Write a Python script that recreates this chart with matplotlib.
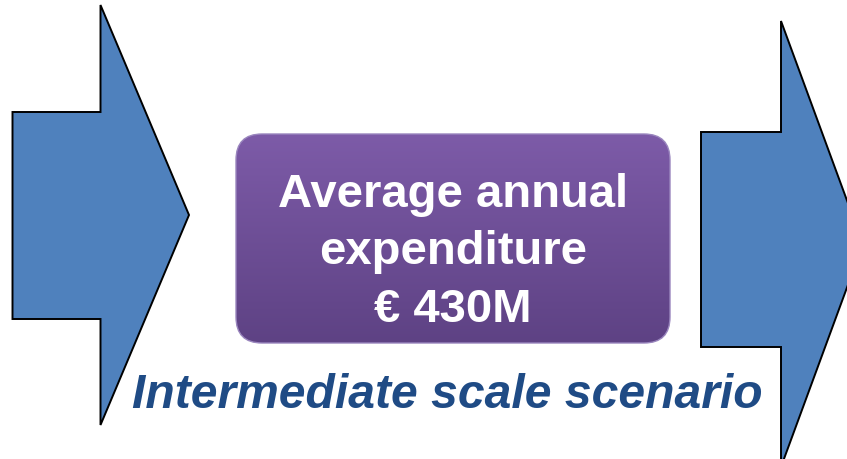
import numpy as np
import matplotlib
matplotlib.use("Agg")
import matplotlib.pyplot as plt
from matplotlib.patches import Polygon, FancyBboxPatch

# ---- content ----
box_lines = ["Average annual", "expenditure", "€ 430M"]
scenario_label = "Intermediate scale scenario"

# arrow geometry (pixels, y down): shaft_left, shaft_top, shaft_bottom, head_base, head_top, head_bottom, tip_x, tip_y
left_arrow = [12.5, 112, 319, 100.5, 5, 425, 189, 215]
right_arrow = [701, 132, 347, 781, 21, 467, 863, 244]

W, H = 847, 459
fig = plt.figure(figsize=(W / 100, H / 100), dpi=100)
ax = fig.add_axes([0, 0, 1, 1])
ax.set_xlim(0, W)
ax.set_ylim(H, 0)
ax.axis("off")

def arrow(p):
    sl, st, sb, hb, ht, hbot, tx, ty = p
    pts = [(sl, st), (hb, st), (hb, ht), (tx, ty), (hb, hbot), (hb, sb), (sl, sb)]
    ax.add_patch(Polygon(pts, closed=True, facecolor="#4F81BD",
                         edgecolor="black", linewidth=1.4, joinstyle="miter", zorder=2))

arrow(left_arrow)
arrow(right_arrow)

# rounded gradient box
bx0, by0, bx1, by1 = 236, 134, 670, 343
r = 26
box = FancyBboxPatch((bx0 + r, by0 + r), (bx1 - bx0) - 2 * r, (by1 - by0) - 2 * r,
                     boxstyle=f"round,pad={r}", facecolor="none",
                     edgecolor="#9A86BE", linewidth=1.0, zorder=4)
ax.add_patch(box)
top = np.array([0x7D, 0x5B, 0xA8]) / 255
bot = np.array([0x5E, 0x42, 0x84]) / 255
t = np.linspace(0, 1, 256)[:, None]
grad = (top[None, None, :] * (1 - t[..., None]) + bot[None, None, :] * t[..., None])
grad = np.repeat(grad, 2, axis=1)
im = ax.imshow(grad, extent=(bx0, bx1, by1, by0), aspect="auto", zorder=3,
               interpolation="bilinear")
im.set_clip_path(box)

ys = [207, 264.5, 322]
for s, y in zip(box_lines, ys):
    ax.text(453, y, s, ha="center", va="baseline", color="white",
            fontsize=34, fontweight="bold", family="Liberation Sans", zorder=5)

ax.text(447.5, 408, scenario_label, ha="center", va="baseline", color="#1F4B85",
        fontsize=34.6, fontweight="bold", fontstyle="italic",
        family="Liberation Sans", zorder=5)

fig.savefig("out.png", dpi=100)
